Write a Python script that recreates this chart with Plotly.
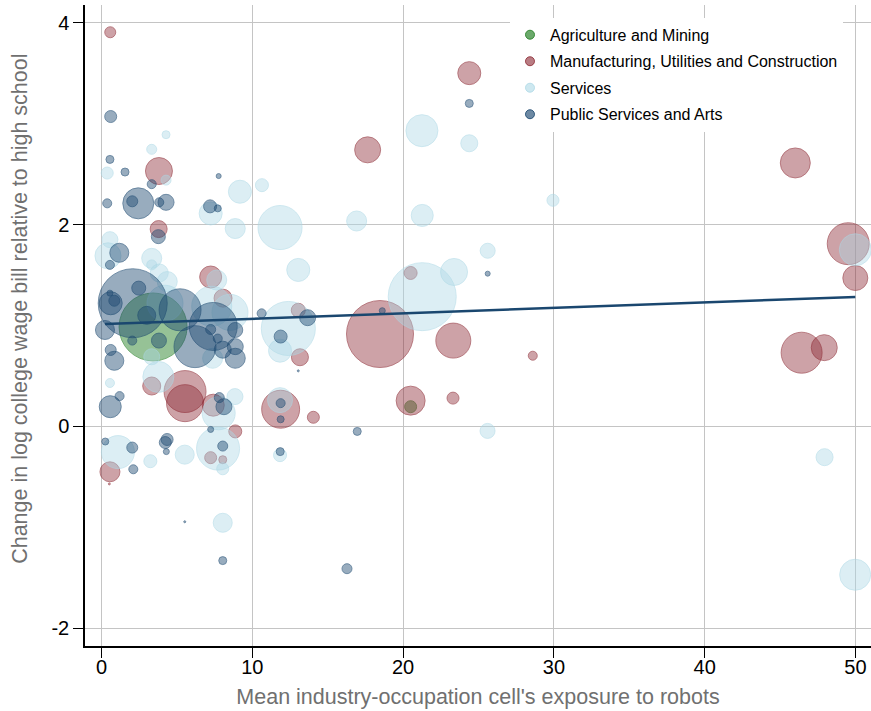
import plotly.graph_objects as go

# Industry-occupation cells: mean robot exposure (x), change in log college
# wage bill relative to high school (y), and employment weight (w).
agri_x = [3.42, 20.50]
agri_y = [0.985, 0.195]
agri_w = [46.2, 1.44]

manu_x = [0.58, 24.39, 17.65, 46.01, 49.52, 49.99, 46.43, 47.93, 18.47, 23.33,
          20.50, 23.31, 11.88, 14.05, 13.16, 13.05, 7.24, 3.81, 3.79, 8.06,
          5.54, 5.54, 3.33, 7.41, 8.87, 0.56, 0.52, 20.50, 28.60, 7.24, 8.04]
manu_y = [3.905, 3.50, 2.74, 2.61, 1.81, 1.47, 0.73, 0.78, 0.915, 0.85,
          0.255, 0.28, 0.17, 0.09, 0.685, 1.15, 1.48, 2.53, 1.955, 1.27,
          0.345, 0.23, 0.40, 0.21, -0.05, -0.45, -0.57, 1.52, 0.70, -0.31, -0.33]
manu_w = [1.21, 5.29, 6.76, 9.0, 17.6, 6.25, 16.8, 6.76, 44.9, 12.25,
          8.41, 1.44, 14.4, 1.44, 2.89, 1.96, 4.84, 7.29, 2.89, 3.24,
          17.6, 13.7, 3.24, 4.84, 1.69, 4.0, 0.04, 1.69, 0.81, 1.44, 0.64]

serv_x = [4.28, 3.33, 0.38, 4.28, 9.18, 10.64, 7.24, 8.87, 11.84, 0.56,
          0.43, 3.33, 3.33, 3.83, 4.36, 7.64, 7.31, 8.52, 13.05, 16.92,
          21.27, 25.61, 21.27, 23.38, 12.39, 11.84, 11.84, 11.84, 8.85, 7.77,
          7.73, 8.04, 5.52, 3.24, 1.09, 8.04, 25.60, 47.95, 49.98, 49.99,
          29.94, 21.25, 24.39, 3.77, 3.33, 0.56, 7.37, 4.21]
serv_y = [2.89, 2.745, 2.51, 2.44, 2.325, 2.39, 2.11, 1.96, 1.97, 1.85,
          1.69, 1.665, 1.60, 1.52, 1.435, 1.45, 1.19, 1.13, 1.55, 2.035,
          2.09, 1.74, 1.285, 1.53, 0.97, 0.75, 0.26, -0.285, 0.295, 0.13,
          -0.22, -0.955, -0.28, -0.345, -0.255, -0.42, -0.045, -0.305, -1.47, 1.75,
          2.24, 2.93, 2.805, 0.49, 0.69, 0.43, 0.675, 1.22]
serv_w = [0.64, 1.0, 1.44, 1.0, 5.29, 1.69, 5.29, 4.0, 19.4, 2.56,
          6.76, 4.0, 1.0, 3.24, 4.0, 4.0, 16.0, 12.96, 5.29, 4.0,
          4.84, 2.25, 46.2, 7.29, 29.2, 5.29, 6.25, 1.69, 2.56, 10.9,
          18.5, 3.61, 3.61, 1.69, 10.9, 1.44, 2.25, 2.89, 9.61, 10.24,
          1.44, 10.24, 2.89, 9.61, 2.56, 0.81, 4.0, 12.96]

pub_x = [0.61, 0.56, 1.56, 7.77, 0.38, 2.44, 2.04, 3.33, 4.28, 3.83,
         7.20, 7.71, 3.77, 1.18, 0.56, 2.47, 2.07, 0.56, 0.85, 0.61,
         5.21, 7.41, 3.00, 10.62, 0.23, 2.04, 3.81, 6.20, 7.24, 7.71,
         8.04, 8.87, 8.87, 8.87, 0.61, 0.85, 0.58, 1.20, 7.81, 8.12,
         11.88, 7.24, 13.67, 11.88, 18.62, 25.61, 24.39, 11.88, 11.85, 16.96,
         8.04, 13.05, 0.25, 2.04, 2.11, 4.23, 4.30, 5.52, 8.04, 16.28, 4.35]
pub_y = [3.07, 2.645, 2.52, 2.48, 2.21, 2.21, 2.23, 2.40, 2.22, 2.22,
         2.18, 2.16, 1.88, 1.72, 1.60, 1.37, 1.22, 1.32, 1.245, 1.22,
         1.155, 0.99, 1.10, 1.12, 0.955, 0.85, 0.85, 0.79, 0.96, 0.87,
         0.76, 0.955, 0.79, 0.675, 0.757, 0.65, 0.195, 0.30, 0.285, 0.195,
         0.23, -0.03, 1.077, 0.89, 1.146, 1.513, 3.20, 0.07, -0.25, -0.05,
         -0.195, 0.55, -0.15, -0.21, -0.425, -0.16, -0.25, -0.945, -1.33, -1.41, -0.13]
pub_w = [1.44, 0.64, 0.64, 0.25, 0.81, 9.61, 1.21, 0.81, 2.56, 0.81,
         1.69, 0.49, 1.96, 3.61, 0.81, 1.96, 47.6, 0.36, 1.21, 5.29,
         17.6, 23.0, 3.24, 0.81, 3.61, 0.81, 2.25, 17.6, 1.0, 0.81,
         2.89, 2.25, 2.56, 4.0, 1.21, 3.61, 4.84, 0.81, 1.0, 2.56,
         0.81, 0.36, 2.56, 1.69, 0.36, 0.25, 0.64, 0.49, 0.64, 0.64,
         1.0, 0.04, 0.49, 1.21, 0.81, 1.44, 0.36, 0.04, 0.64, 1.0, 1.44]

# Weighted linear fit of y on x
fit_intercept = 1.012
fit_slope = 0.0054

groups = [
    ("Agriculture and Mining", agri_x, agri_y, agri_w, "44,132,44", 0.70),
    ("Manufacturing, Utilities and Construction", manu_x, manu_y, manu_w, "139,37,48", 0.60),
    ("Services", serv_x, serv_y, serv_w, "173,216,230", 0.60),
    ("Public Services and Arts", pub_x, pub_y, pub_w, "26,71,111", 0.64),
]

FONT = "Liberation Sans, Arial, Helvetica, sans-serif"
TITLE_GRAY = "#707070"
fig = go.Figure()

for name, xs, ys, ws, rgb, a in groups:
    fig.add_trace(go.Scatter(
        x=xs, y=ys, mode="markers", name=name, showlegend=False,
        legendgroup=name, hoverinfo="skip",
        marker=dict(size=ws, sizemode="area", sizeref=0.02, sizemin=1,
                    color=f"rgba({rgb},{a})",
                    line=dict(color=f"rgba({rgb},{min(a + 0.2, 1)})", width=1)),
    ))

all_x = agri_x + manu_x + serv_x + pub_x
x0, x1 = min(all_x), max(all_x)
fig.add_trace(go.Scatter(
    x=[x0, x1], y=[fit_intercept + fit_slope * x0, fit_intercept + fit_slope * x1],
    mode="lines", line=dict(color="#1a476f", width=2.5), showlegend=False,
    hoverinfo="skip",
))

# Legend keys
for name, xs, ys, ws, rgb, a in groups:
    fig.add_trace(go.Scatter(
        x=[None], y=[None], mode="markers", name=name, legendgroup=name,
        marker=dict(size=9, color=f"rgba({rgb},{a})",
                    line=dict(color=f"rgba({rgb},{min(a + 0.2, 1)})", width=1)),
    ))

axis_common = dict(
    showgrid=True, gridcolor="#c4c4c4", gridwidth=1, zeroline=False,
    showline=True, linecolor="black", linewidth=1.5,
    ticks="outside", ticklen=10, tickwidth=1.2, tickcolor="black",
    tickfont=dict(family=FONT, size=20, color="black"),
)

fig.update_layout(
    width=871, height=711,
    margin=dict(l=85, r=0, t=5, b=65),
    paper_bgcolor="white", plot_bgcolor="white",
    xaxis=dict(range=[-1.094, 51.03], tickvals=[0, 10, 20, 30, 40, 50],
               ticklabelstandoff=-8,
               title=dict(text="Mean industry-occupation cell's exposure to robots",
                          font=dict(family=FONT, size=21.5, color=TITLE_GRAY), standoff=12),
               **axis_common),
    yaxis=dict(range=[-2.176, 4.175], tickvals=[-2, 0, 2, 4],
               ticktext=["-2", "0", "2", "4"],
               **axis_common),
    annotations=[dict(
        text="Change in log college wage bill relative to high school",
        xref="paper", yref="paper", x=-0.0827, y=0.526,
        xanchor="center", yanchor="middle", textangle=-90, showarrow=False,
        font=dict(family=FONT, size=21.5, color=TITLE_GRAY),
    )],
    legend=dict(x=0.5407, y=0.980, xanchor="left", yanchor="top",
                bgcolor="white", borderwidth=0, tracegroupgap=2.7,
                entrywidth=310, entrywidthmode="pixels",
                font=dict(family=FONT, size=16, color="black")),
    showlegend=True,
)

fig.write_html("out.html")
